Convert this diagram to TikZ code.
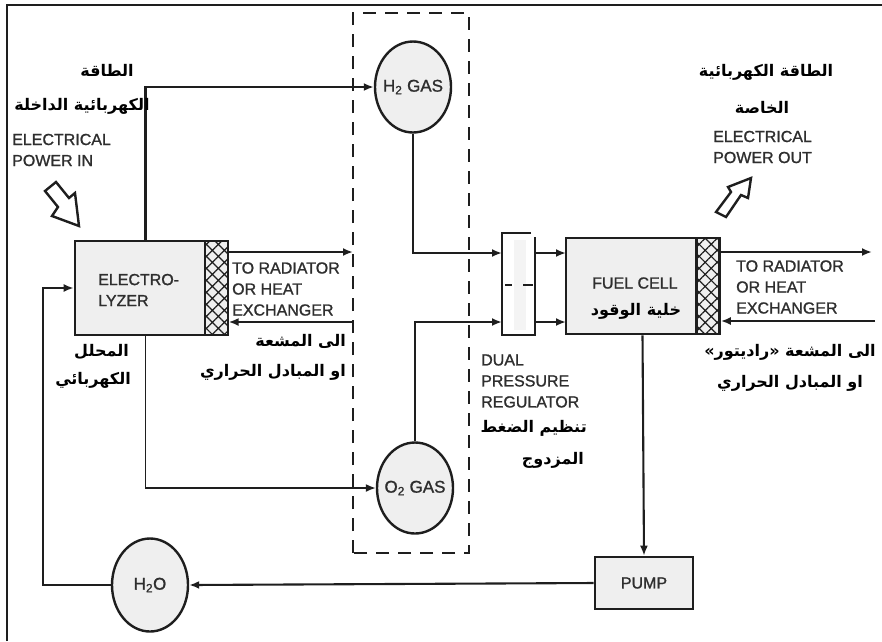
\documentclass[tikz,border=0pt]{standalone}
\usepackage{fontspec}
\setmainfont{Liberation Sans}
\newfontfamily\figfont{Liberation Sans}[FakeBold=1.2]
\newfontfamily\arabicfont[Script=Arabic]{DejaVu Sans}
\TeXXeTstate=1
\usepackage{xcolor}
\usetikzlibrary{arrows.meta,patterns.meta,shapes.geometric}
\definecolor{figgray}{HTML}{EFEFEF}
\definecolor{figink}{HTML}{1E1E1E}
\definecolor{figtext}{HTML}{2E2E2E}
\tikzset{
  flow/.style={draw=figink,line width=2.1,-{Latex[length=10,width=8]}},
  flowthin/.style={flow,line width=1.6},
  boxnode/.style={draw=figink,fill=figgray,line width=2.6,inner sep=0pt,text=figtext,font=\figfont\fontsize{16}{21}\selectfont},
  gasnode/.style={ellipse,draw=figink,fill=figgray,line width=2.4,inner sep=-5pt,minimum width=76,minimum height=91,font=\figfont\fontsize{17}{20}\selectfont,text=figtext},
  hatchnode/.style={draw=figink,line width=2.6,inner sep=0pt,pattern={Hatch[angle=45,distance=8.5pt,line width=1.2pt,xshift=2pt]},pattern color=figink},
  latinlabel/.style={anchor=west,align=left,inner sep=0pt,text=figtext,font=\figfont\fontsize{16}{21}\selectfont},
  arabiclabel/.style={inner sep=0pt,text=black,align=center,font=\arabicfont\bfseries\fontsize{16}{32}\selectfont},
  blockarrow/.style={draw=figink,fill=white,line width=2.4,line join=miter},
}
\begin{document}
\begin{tikzpicture}[x=1pt,y=-1pt]
    \useasboundingbox (0,0) rectangle (882,641);
    \draw[figink,line width=2] (7,641) -- (7,5) -- (882,5);
    \draw[figink,line width=2.4,dash pattern=on 13 off 9] (353,553) -- (353,13) -- (469,13) -- (469,553) -- cycle;

    \node[boxnode,minimum width=153,minimum height=94] (electrolyzer) at (151.5,288) {};
    \node[hatchnode,minimum width=23,minimum height=94] (electrohx) at (216.5,288) {};
    \node[boxnode,minimum width=153,minimum height=96] (fuelcell) at (642.5,286) {};
    \node[hatchnode,minimum width=23,minimum height=96] (fuelhx) at (708,286) {};
    \node[boxnode,minimum width=98,minimum height=52] (pump) at (644,583) {PUMP};
    \node[gasnode] (h2gas) at (413,87) {H\textsubscript{2} GAS};
    \node[gasnode] (o2gas) at (415,488) {O\textsubscript{2} GAS};
    \node[gasnode,minimum height=93] (h2o) at (150,585) {H\textsubscript{2}O};

    \node[inner sep=0pt,fill=white,minimum width=33,minimum height=102] (regulator) at (518.5,284) {};
    \fill[figgray!70] (514,240) rectangle (526,330);
    \draw[figink,line width=2.4] ([xshift=-4]regulator.north east) -- (regulator.north west) -- (regulator.south west) -- (regulator.south east) -- ([yshift=-4]regulator.north east);
    \draw[figink,line width=1.4] (505,285) -- (512,285) (523,285) -- (533,285);

    \coordinate (reginh) at (502,253);
    \coordinate (regino) at (502,322);
    \coordinate (regouth) at (535,253);
    \coordinate (regouto) at (535,322);
    \coordinate (cellinh) at (566,253);
    \coordinate (cellino) at (566,322);
    \coordinate (elecradout) at (353,252);
    \coordinate (elecradin) at (353,322);
    \coordinate (cellradout) at (872,252);
    \coordinate (cellradin) at (875,321);

    \draw[flow] ([xshift=-6]electrolyzer.north) |- (h2gas.west);
    \draw[flow] (h2gas.south) |- (reginh);
    \draw[flow] (o2gas.north) |- (regino);
    \draw[flowthin] ([xshift=-6]electrolyzer.south) |- (o2gas.west);
    \draw[flow] (regouth) -- (cellinh);
    \draw[flow] (regouto) -- (cellino);
    \draw[flow] ([yshift=36]electrohx.east) -- (elecradout);
    \draw[flow] (elecradin) -- ([yshift=-34]electrohx.east);
    \draw[flow] ([yshift=34]fuelhx.east) -- (cellradout);
    \draw[flow] (cellradin) -- ([yshift=-35]fuelhx.east);
    \draw[flow] (fuelcell.south) -- (pump.north);
    \draw[flow] (pump.west) -- (h2o.east);
    \draw[flow] (h2o.west) -- (43,585) |- (electrolyzer.west);

    \draw[blockarrow] (45,191) -- (56,182) -- (69,198) -- (75,193) -- (79,226) -- (52,216) -- (58,207) -- cycle;
    \draw[blockarrow] (716,212) -- (731,192) -- (728,187) -- (751,178) -- (748,198) -- (741,195) -- (726,217) -- cycle;

    \node[arabiclabel] (powerinar) at (107,70) {\beginR الطاقة\endR};
    \node[arabiclabel] (powerinarb) at (82,106) {\beginR الكهربائية الداخلة\endR};
    \node[latinlabel] (powerin) at (12,150) {ELECTRICAL\\POWER IN};
    \node[arabiclabel] (poweroutar) at (766,72) {\beginR الطاقة الكهربائية\endR};
    \node[arabiclabel] (poweroutarb) at (762,107) {\beginR الخاصة\endR};
    \node[latinlabel] (powerout) at (713,147) {ELECTRICAL\\POWER OUT};
    \node[latinlabel] (electrolabel) at (98,290) {ELECTRO-\\LYZER};
    \node[latinlabel] (elecrad) at (232,289) {TO RADIATOR\\OR HEAT\\EXCHANGER};
    \node[arabiclabel,anchor=east] (elecnamea) at (129,352) {\beginR المحلل\endR};
    \node[arabiclabel,anchor=east] (elecnameb) at (131,380) {\beginR الكهربائي\endR};
    \node[arabiclabel,anchor=east] (elecrada) at (346,341) {\beginR الى المشعة\endR};
    \node[arabiclabel,anchor=east] (elecradb) at (346,372) {\beginR او المبادل الحراري\endR};
    \node[latinlabel] (fuellabel) at (592,283) {FUEL CELL};
    \node[arabiclabel] (fuellabelar) at (636,311) {\beginR خلية الوقود\endR};
    \node[latinlabel] (cellrad) at (736,287) {TO RADIATOR\\OR HEAT\\EXCHANGER};
    \node[arabiclabel] (cellrada) at (790,352) {\beginR الى المشعة «راديتور»\endR};
    \node[arabiclabel] (cellradb) at (790,383) {\beginR او المبادل الحراري\endR};
    \node[latinlabel] (reglabel) at (481,381) {DUAL\\PRESSURE\\REGULATOR};
    \node[arabiclabel,anchor=east] (regara) at (587,428) {\beginR تنظيم الضغط\endR};
    \node[arabiclabel,anchor=east] (regarb) at (584,460) {\beginR المزدوج\endR};
  \end{tikzpicture}
\end{document}
